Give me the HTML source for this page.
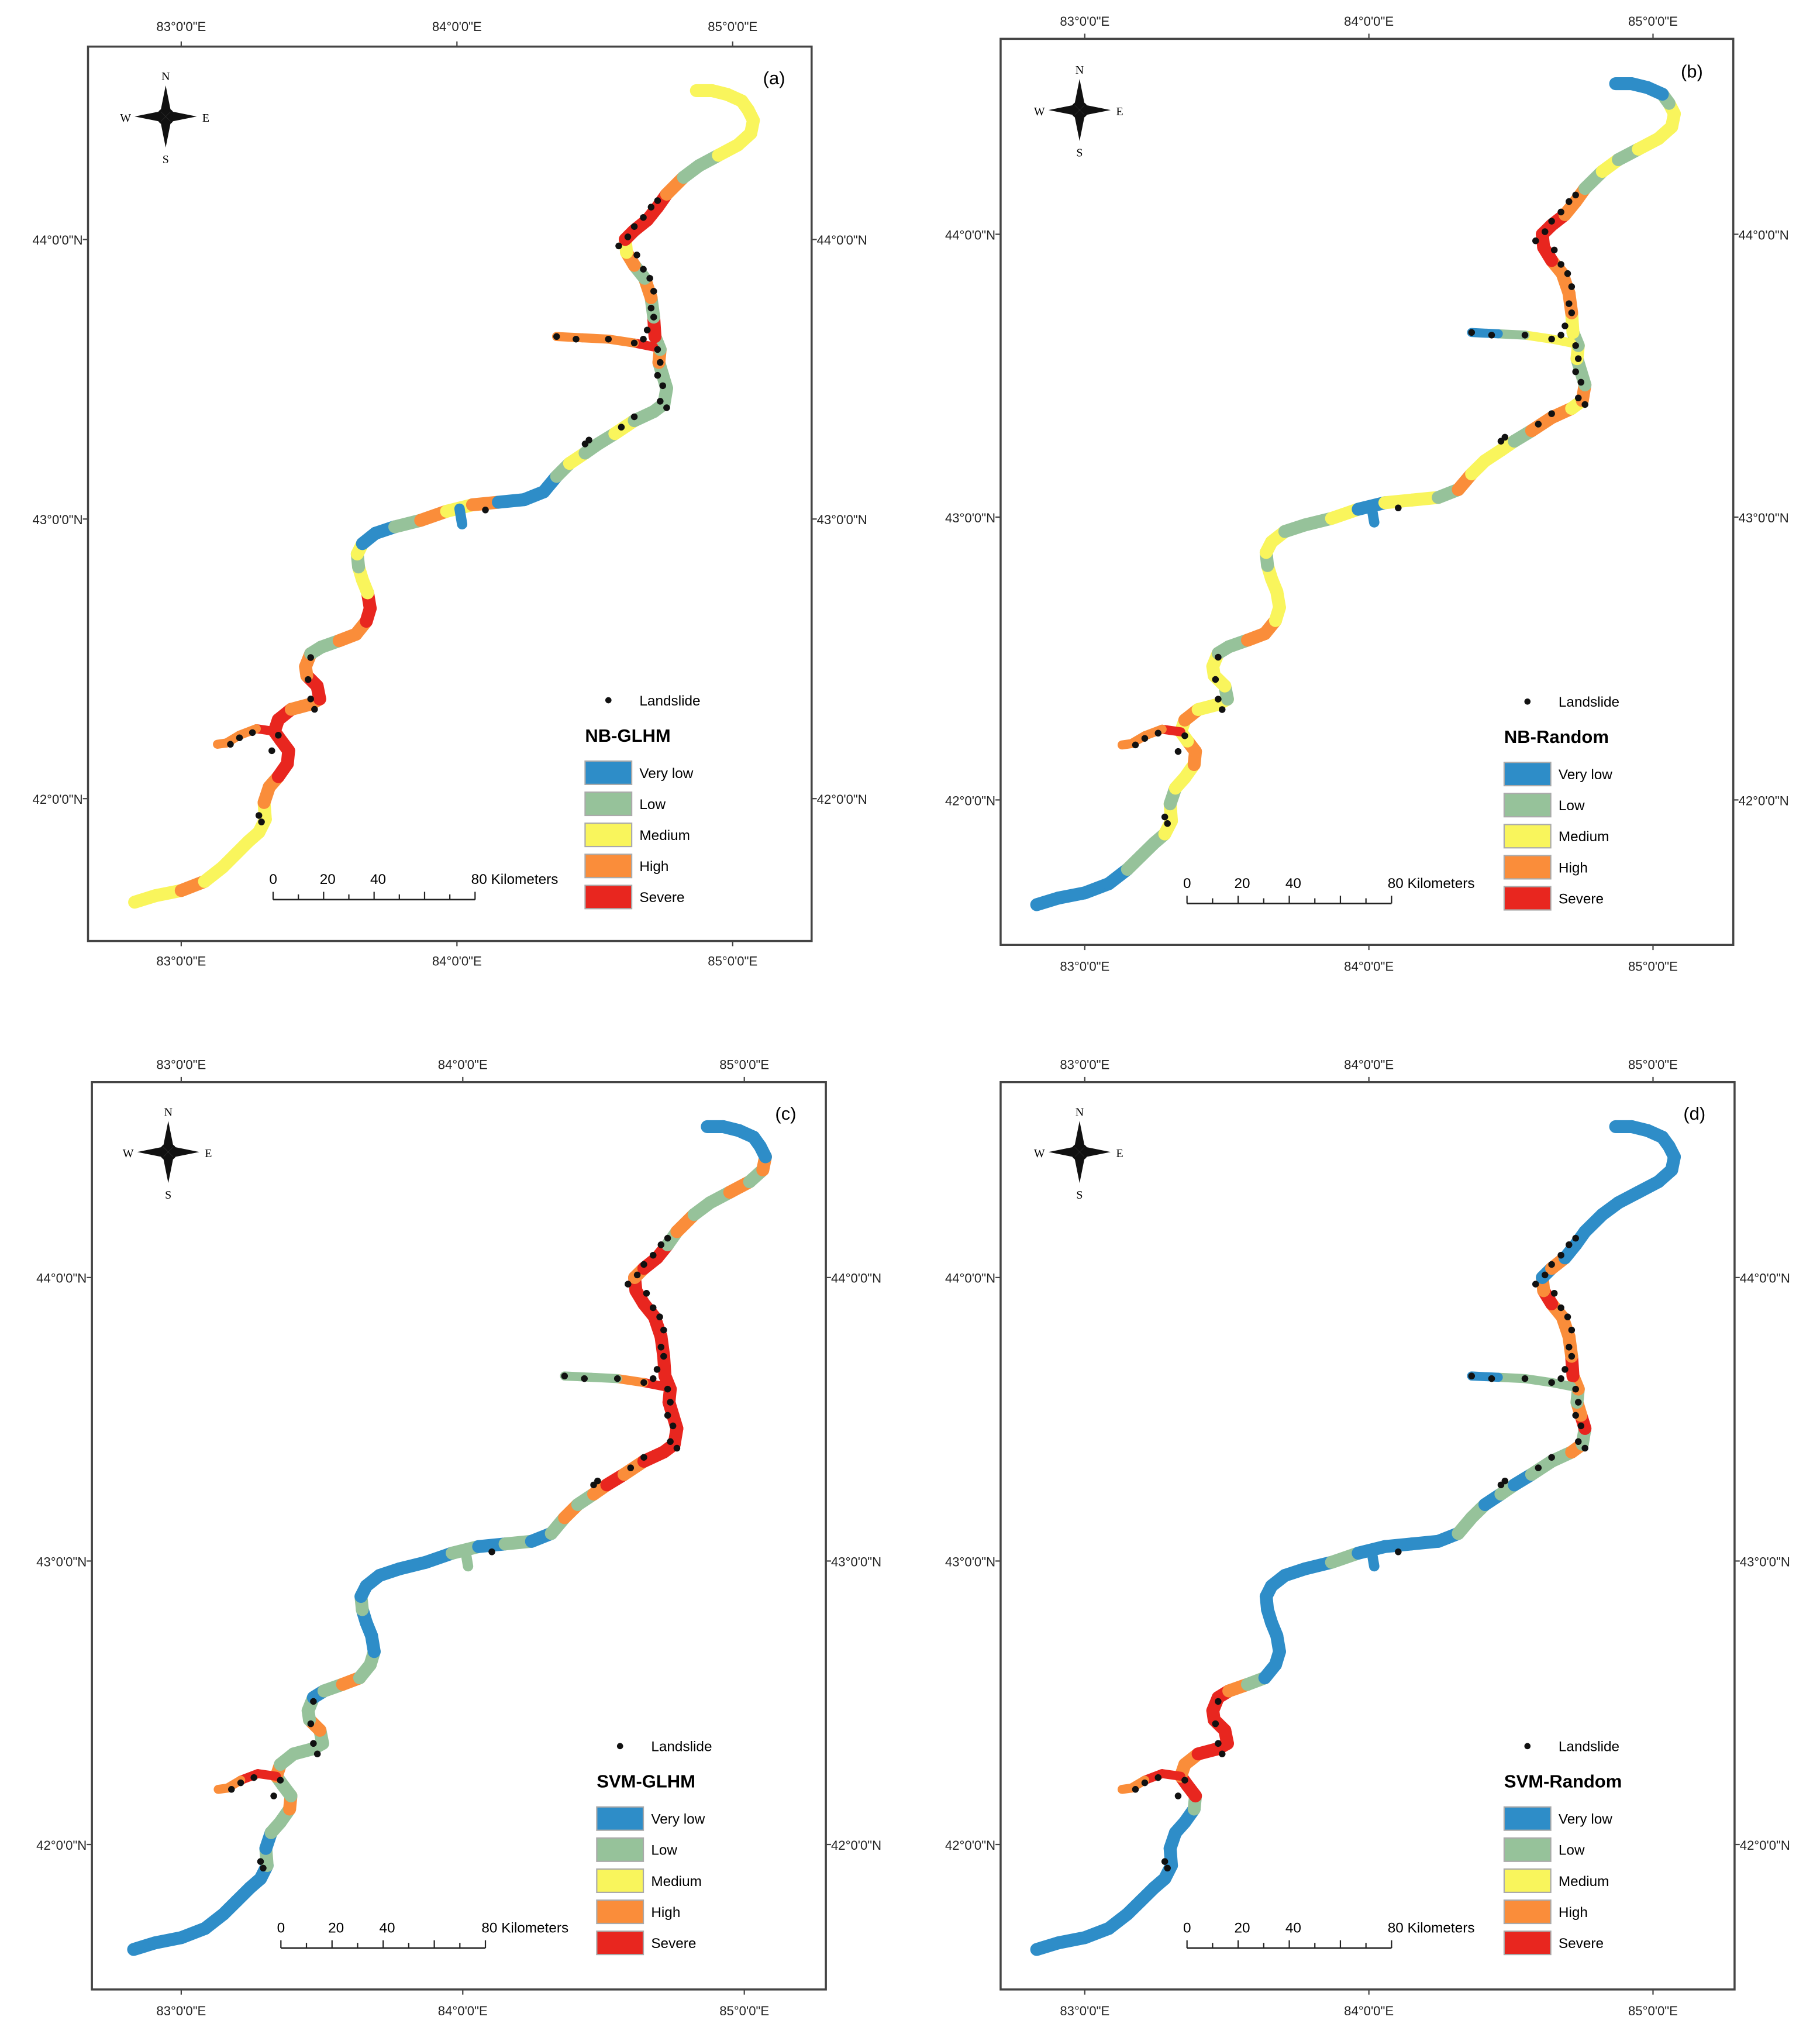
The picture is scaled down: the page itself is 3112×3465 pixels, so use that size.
<!DOCTYPE html>
<html><head><meta charset="utf-8">
<style>
html,body{margin:0;padding:0;background:#fff;}
svg{display:block;font-family:"Liberation Sans",sans-serif;}
</style></head>
<body>
<svg id="fig" width="3112" height="3465" viewBox="0 0 1406 1566" preserveAspectRatio="none" xmlns="http://www.w3.org/2000/svg"></svg>
<script>
// River centerline in reference-panel pixels converted to lon/lat below
const riverMainRef = [[104,697],[120,692],[140,688],[158,681],[172,670],[182,660],[192,650],[200,643],[205,633],[204,620],[208,608],[215,600],[222,590],[223,580],[217,572],[212,565],[215,556],[225,548],[240,544],[247,540],[245,530],[237,522],[236,515],[240,505],[248,500],[262,495],[275,490],[283,480],[286,470],[284,458],[280,448],[277,438],[276,428],[280,420],[290,412],[305,407],[325,402],[345,395],[365,390],[385,388],[405,386],[420,380],[430,368],[440,358],[452,350],[462,343],[475,335],[490,325],[505,318],[513,312],[515,300],[512,290],[509,280],[510,270],[506,260],[505,245],[503,230],[498,215],[490,205],[484,195],[483,185],[490,178],[500,170],[508,160],[515,150],[528,137],[540,128],[555,120],[570,112],[580,103],[582,93],[578,85],[573,78],[562,73],[550,70],[538,70]];
const riverBranchRef = [[505,268],[490,265],[470,262],[450,261],[430,260]];
const riverStubRef = [[355,393],[357,405]];
const riverSWRef = [[212,565],[198,563],[185,568],[175,574],[168,575]];
const landslidesRef = [[478,190],[485,183],[490,175],[497,168],[503,160],[508,155],[492,197],[497,208],[502,215],[505,225],[503,238],[505,245],[500,255],[497,262],[430,260],[445,262],[470,262],[490,265],[508,270],[510,280],[508,290],[512,298],[510,310],[515,315],[490,322],[480,330],[455,340],[452,343],[375,394],[240,508],[238,525],[240,540],[243,548],[215,568],[210,580],[195,566],[185,570],[178,575],[200,630],[202,635]];
const modelNames = ["NB-GLHM","NB-Random","SVM-GLHM","SVM-Random"];
const panelLetters = ["(a)","(b)","(c)","(d)"];
const mainClasses = [
 "YYOYYYYY"+"YOORR"+"RRRRO"+"ORROOG"+"GOORRY"+"YGYBB"+"GOYO"+"BBBGY"+"GGYGGG"+"GGOGRG"+"OGOYR"+"RRROG"+"GYYYYYYYY",
 "BBBBGGGY"+"YGYYO"+"OYYOY"+"YGYYYG"+"GOOYYY"+"YGYYG"+"GYBY"+"YGOYY"+"YGOOYO"+"GGYGYO"+"OORRR"+"ROOGY"+"GYYYYGBBB",
 "BBBBBBBB"+"GBGGO"+"GGOGG"+"GGOGGB"+"GOGGBB"+"BGBBB"+"BBGB"+"GBGOG"+"ORORRR"+"RRRRRR"+"RRRRO"+"RRGOG"+"GOGOBBBBB",
 "BBBBBBBB"+"BBBBG"+"RROOR"+"RRRRRR"+"OGBBBB"+"BBBBB"+"BGBB"+"BBGGB"+"GBGGOG"+"ROGORO"+"OOROB"+"OBBBB"+"BBBBBBBBB"];
const branchClasses = ["ROOO","YYGB","ROGG","GGGB"];
const stubClasses = ["B","B","G","B"];
const swClasses = ["ROOO","ROOO","RROO","RROO"];
const legendLabels = ["Very low","Low","Medium","High","Severe"];
const lonTicks = [83,84,85];
const latTicks = [44,43,42];
const scaleTicks = ["0","20","40","80 Kilometers"];

const COL = {B:"#2e8dc8",G:"#96c29a",Y:"#f9f55c",O:"#fa8d3a",R:"#e8261f"};
const legendCols = ["#2e8dc8","#96c29a","#f9f55c","#fa8d3a","#e8261f"];
const toLL = p => [83+(p[0]-140)/213, 44-(p[1]-185)/216];

const panels = [
 {f:[68,36,627,727], lx:[140,566], ly:[185,617], leg:[452,541], sc:[211,367,695], cp:[128,90], lab:[598,60], tt:20, tb:742},
 {f:[773,30,1339,730], lx:[838,1277], ly:[181,618], leg:[1162,542], sc:[917,1075,698], cp:[834,85], lab:[1307,55], tt:16, tb:746},
 {f:[71,836,638,1537], lx:[140,575], ly:[987,1425], leg:[461,1349], sc:[217,375,1505], cp:[130,890], lab:[607,860], tt:822, tb:1553},
 {f:[773,836,1340,1537], lx:[838,1277], ly:[987,1425], leg:[1162,1349], sc:[917,1075,1505], cp:[834,890], lab:[1309,860], tt:822, tb:1553}];

const NS="http://www.w3.org/2000/svg";
const svg=document.getElementById('fig');
function mk(tag,attrs,parent){const e=document.createElementNS(NS,tag);for(const k in attrs)e.setAttribute(k,attrs[k]);(parent||svg).appendChild(e);return e;}

panels.forEach((P,pi)=>{
 const g=mk('g',{});
 
 
 const X=lon=>P.lx[0]+(lon-83)*(P.lx[1]-P.lx[0])/2;
 const Y=lat=>P.ly[0]+(44-lat)*(P.ly[1]-P.ly[0])/2;
 const fr=mk('rect',{x:P.f[0],y:P.f[1],width:P.f[2]-P.f[0],height:P.f[3]-P.f[1],fill:'#fff',stroke:'#444','stroke-width':1.6},g);
 
 
 // ticks & labels
 lonTicks.forEach(t=>{
  const x=X(t);
  mk('line',{x1:x,y1:P.f[1]-4,x2:x,y2:P.f[1],stroke:'#444'},g);
  mk('line',{x1:x,y1:P.f[3],x2:x,y2:P.f[3]+4,stroke:'#444'},g);
  [P.tt,P.tb].forEach(yy=>{const tx=mk('text',{x:x,y:yy+4,'font-size':10,'text-anchor':'middle',fill:'#222'},g);tx.textContent=t+'°0\'0"E';
   
   });
 });
 latTicks.forEach(t=>{
  const y=Y(t);
  mk('line',{x1:P.f[0]-4,y1:y,x2:P.f[0],y2:y,stroke:'#444'},g);
  mk('line',{x1:P.f[2],y1:y,x2:P.f[2]+4,y2:y,stroke:'#444'},g);
  const a=mk('text',{x:P.f[0]-4,y:y+4,'font-size':10,'text-anchor':'end',fill:'#222'},g);a.textContent=t+'°0\'0"N';
  
  
  const b=mk('text',{x:P.f[2]+4,y:y+4,'font-size':10,fill:'#222'},g);b.textContent=t+'°0\'0"N';
  
  
 });
 // river segments
 const drawLine=(ref,cls,w)=>{
  const pts=ref.map(toLL).map(p=>[X(p[0]),Y(p[1])]);
  for(let i=0;i<pts.length-1;i++){
   const c=COL[cls[Math.min(i,cls.length-1)]];
   const s=mk('line',{x1:pts[i][0],y1:pts[i][1],x2:pts[i+1][0],y2:pts[i+1][1],stroke:c,'stroke-width':w,'stroke-linecap':'round'},g);
   
   
  }
 };
 drawLine(riverMainRef,mainClasses[pi],10);
 drawLine(riverBranchRef,branchClasses[pi],7);
 drawLine(riverStubRef,stubClasses[pi],8);
 drawLine(riverSWRef,swClasses[pi],7);
 landslidesRef.map(toLL).forEach(p=>{
  const d=mk('circle',{cx:X(p[0]),cy:Y(p[1]),r:2.6,fill:'#111'},g);
  
  
 });
 // compass
 const [cx,cy]=P.cp;
 const cg=mk('g',{},g);
 
 
 mk('polygon',{points:`${cx},${cy-24} ${cx+4},${cy-4} ${cx},${cy} ${cx-4},${cy-4}`,fill:'#111'},cg);
 mk('polygon',{points:`${cx},${cy+24} ${cx+4},${cy+4} ${cx},${cy} ${cx-4},${cy+4}`,fill:'#111'},cg);
 mk('polygon',{points:`${cx-24},${cy} ${cx-4},${cy-4} ${cx},${cy} ${cx-4},${cy+4}`,fill:'#111'},cg);
 mk('polygon',{points:`${cx+24},${cy} ${cx+4},${cy-4} ${cx},${cy} ${cx+4},${cy+4}`,fill:'#111'},cg);
 mk('circle',{cx:cx,cy:cy,r:6,fill:'none',stroke:'#111','stroke-width':1.5},cg);
 [['N',cx,cy-28],['S',cx,cy+36],['W',cx-31,cy+4],['E',cx+31,cy+4]].forEach(a=>{const t=mk('text',{x:a[1],y:a[2],'font-size':9,'text-anchor':'middle','font-family':'Liberation Serif, serif'},cg);t.textContent=a[0];});
 const pl=mk('text',{x:P.lab[0],y:P.lab[1]+5,'font-size':14,'text-anchor':'middle'},g);pl.textContent=panelLetters[pi];
 
 
 // legend
 const [lx,ly]=P.leg;
 const lg=mk('g',{},g);
 
 
 mk('circle',{cx:lx+18,cy:ly,r:2.4,fill:'#111'},lg);
 const lt=mk('text',{x:lx+42,y:ly+4,'font-size':11},lg);lt.textContent='Landslide';
 
 
 const tt=mk('text',{x:lx,y:ly+32,'font-size':14,'font-weight':'bold'},lg);tt.textContent=modelNames[pi];
 
 
 legendLabels.forEach((lab,i)=>{
  const yy=ly+47+i*24;
  const r=mk('rect',{x:lx,y:yy,width:36,height:18,fill:legendCols[i],stroke:'#aaa','stroke-width':1},lg);
  
  
  const t=mk('text',{x:lx+42,y:yy+13,'font-size':11},lg);t.textContent=lab;
  
  
 });
 // scale bar
 const [s0,s1,sy]=P.sc;
 const sg=mk('g',{},g);
 
 
 mk('line',{x1:s0,y1:sy,x2:s1,y2:sy,stroke:'#222','stroke-width':1.2},sg);
 for(let k=0;k<=8;k++){const x=s0+(s1-s0)*k/8;mk('line',{x1:x,y1:sy,x2:x,y2:sy-(k%2==0?6:4),stroke:'#222'},sg);}
 const tpos=[0,2,4,8];
 scaleTicks.forEach((s,i)=>{const x=s0+(s1-s0)*tpos[i]/8;const t=mk('text',{x:x-3,y:sy-12,'font-size':11},sg);t.textContent=s;});
});
</script>
</body></html>
